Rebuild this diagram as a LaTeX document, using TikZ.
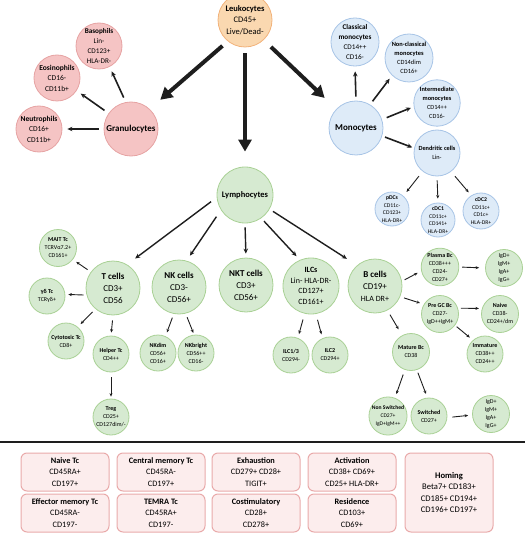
\documentclass[tikz,border=0pt]{standalone}
\usepackage{fontspec}
\setmainfont{Carlito}
\usetikzlibrary{arrows.meta}
\definecolor{cLeu}{HTML}{FAD8B0}
\definecolor{cLeuD}{HTML}{F2B27A}
\definecolor{cGran}{HTML}{F5C4C4}
\definecolor{cGranD}{HTML}{E6A3A3}
\definecolor{cMono}{HTML}{DEEBF8}
\definecolor{cMonoD}{HTML}{A7C4E6}
\definecolor{cLym}{HTML}{D6EAD1}
\definecolor{cLymD}{HTML}{A9D195}
\definecolor{cBox}{HTML}{FCEDED}
\definecolor{cBoxD}{HTML}{E9AAAA}
\definecolor{cArr}{HTML}{1E1E1E}

\begin{document}
\begin{tikzpicture}[
    x=1pt, y=-1pt,
    cell/.style={circle, line width=0.8pt, align=center, inner sep=0pt},
    leu/.style={cell, draw=cLeuD, fill=cLeu},
    gr/.style={cell, draw=cGranD, fill=cGran},
    mo/.style={cell, draw=cMonoD, fill=cMono},
    ly/.style={cell, draw=cLymD, fill=cLym},
    rL/.style={minimum size=54pt, font=\fontsize{8.5}{11.5}\selectfont},
    rM/.style={minimum size=46pt, font=\fontsize{7.5}{10.5}\selectfont},
    rS/.style={minimum size=37pt, font=\fontsize{6}{8}\selectfont},
    rXS/.style={minimum size=34pt, font=\fontsize{5.7}{7.5}\selectfont},
    panel/.style={draw=cBoxD, fill=cBox, line width=1pt, rounded corners=6pt,
                  minimum width=88pt, minimum height=38pt, align=center,
                  inner sep=1pt, font=\fontsize{8.3}{11.5}\selectfont},
    bigarr/.style={-{Triangle[length=12pt, width=13pt]}, line width=4pt, cArr,
                   shorten <=7pt, shorten >=14pt},
    arr/.style={-{Stealth[length=5pt, width=4.5pt]}, line width=1.6pt, cArr,
                shorten <=5pt, shorten >=5pt},
    tarr/.style={-{Stealth[length=3.5pt, width=3pt]}, line width=0.9pt, cArr,
                 shorten <=4pt, shorten >=4pt},
]
\useasboundingbox (0,0) rectangle (531,540);

% ===================== Leukocytes =====================
\node[leu, rL, font=\fontsize{8.5}{11.5}\selectfont] (leuk) at (245,20)
      {\textbf{Leukocytes}\\CD45+\\Live/Dead-};

% ===================== Granulocytes =====================
\node[gr, rL, font=\fontsize{9}{11}\selectfont] (gran) at (131,129) {\textbf{Granulocytes}};
\node[gr, rM] (neut) at (39,129) {\textbf{Neutrophils}\\CD16+\\CD11b+};
\node[gr, rM] (eos) at (57,78) {\textbf{Eosinophils}\\CD16-\\CD11b+};
\node[gr, rM, font=\fontsize{7.2}{10}\selectfont] (baso) at (99,46)
      {\textbf{Basophils}\\Lin-\\CD123+\\HLA-DR-};

\draw[arr] (gran.180) -- (neut.0);
\draw[arr] (gran.145) -- (eos.327);
\draw[arr] (gran.101) -- (baso.297);

% ===================== Monocytes =====================
\node[mo, rL, font=\fontsize{9}{11}\selectfont] (mono) at (356,128) {\textbf{Monocytes}};
\node[mo, rM, font=\fontsize{7.2}{10}\selectfont] (clas) at (355,42)
      {\textbf{Classical}\\\textbf{monocytes}\\CD14++\\CD16-};
\node[mo, rM, minimum size=48pt, font=\fontsize{6.4}{9}\selectfont] (ncla) at (409,58)
      {\textbf{Non-classical}\\\textbf{monocytes}\\CD14dim\\CD16+};
\node[mo, rM, font=\fontsize{6.3}{9}\selectfont] (intm) at (437,103)
      {\textbf{Intermediate}\\\textbf{monocytes}\\CD14++\\CD16-};
\node[mo, rM, font=\fontsize{6.3}{9.5}\selectfont] (dc) at (437,153)
      {\textbf{Dendritic cells}\\Lin-};

\node[mo, rXS] (pdc) at (392,209) {\textbf{pDCs}\\CD11c-\\CD123+\\HLA-DR+};
\node[mo, rXS] (cdca) at (438,220) {\textbf{cDC1}\\CD11c+\\CD141+\\HLA-DR+};
\node[mo, rXS, minimum size=36pt] (cdcb) at (481,211) {\textbf{cDC2}\\CD11c+\\CD1c+\\HLA-DR+};

\draw[arr, shorten <=4pt, shorten >=5pt] (mono.90) -- (clas.270);
\draw[arr, shorten <=4pt, shorten >=4pt] (mono.59) -- (ncla.226);
\draw[arr, shorten <=5pt, shorten >=3pt] (mono.18) -- (intm.189);
\draw[arr, shorten <=3pt, shorten >=2pt] (mono.343) -- (dc.168);

\draw[tarr, shorten <=6pt, shorten >=5pt] (dc.232) -- (pdc.49);
\draw[tarr] (dc.270) -- (cdca.90);
\draw[tarr, shorten <=6pt] (dc.307) -- (cdcb.122);

% ===================== Lymphocytes =====================
\node[ly, rL, minimum size=56pt] (lymph) at (245,195) {\textbf{Lymphocytes}};

\node[ly, rL, font=\fontsize{9}{12}\selectfont] (tcell) at (113,288) {\textbf{T cells}\\CD3+\\CD56};
\node[ly, rL, font=\fontsize{9}{12}\selectfont] (nkcell) at (179,287) {\textbf{NK cells}\\CD3-\\CD56+};
\node[ly, rL, font=\fontsize{9}{12}\selectfont] (nktcell) at (246,285) {\textbf{NKT cells}\\CD3+\\CD56+};
\node[ly, rL, minimum size=56pt, font=\fontsize{8}{10.5}\selectfont] (ilc) at (311,286)
      {\textbf{ILCs}\\Lin- HLA-DR-\\CD127+\\CD161+};
\node[ly, rL, font=\fontsize{9}{12}\selectfont] (bcell) at (375,286)
      {\textbf{B cells}\\CD19+\\{\fontsize{8}{10}\selectfont HLA DR+}};

\draw[arr, line width=1.4pt, shorten <=7pt, shorten >=10pt] (lymph.185) -- (tcell.59);
\draw[arr, line width=1.4pt, shorten <=8pt, shorten >=6pt] (lymph.212) -- (nkcell.74);
\draw[arr, line width=1.4pt, shorten <=4pt, shorten >=4pt] (lymph.270) -- (nktcell.90);
\draw[arr, line width=1.4pt, shorten <=4pt, shorten >=5pt] (lymph.305) -- (ilc.113);
\draw[arr, line width=1.4pt, shorten <=4pt, shorten >=12pt] (lymph.330) -- (bcell.131);

% ===================== Main branches =====================
\draw[bigarr] (leuk.231) -- (gran.47);
\draw[bigarr, shorten <=6pt, shorten >=15pt] (leuk.270) -- (lymph.90);
\draw[bigarr, shorten <=10pt, shorten >=16pt] (leuk.313) -- (mono.136);

% ===================== T cell subsets =====================
\node[ly, rS] (mait) at (58,248) {\textbf{MAIT Tc}\\TCRVα7.2+\\CD161+};
\node[ly, rS, minimum size=36pt] (gdt) at (47,296) {\textbf{γδ Tc}\\TCRγδ+};
\node[ly, rS, minimum size=36pt] (ctox) at (66,341) {\textbf{Cytotoxic Tc}\\CD8+};
\node[ly, rS, minimum size=36pt] (help) at (111,354) {\textbf{Helper Tc}\\CD4++};
\node[ly, rS, minimum size=36pt] (treg) at (111,417) {\textbf{Treg}\\CD25+\\CD127dim/-};

\draw[tarr] (tcell.144) -- (mait.322);
\draw[tarr, shorten <=3pt, shorten >=3pt] (tcell.195) -- (gdt.5);
\draw[tarr] (tcell.230) -- (ctox.50);
\draw[tarr, shorten <=5pt, shorten >=3pt] (tcell.270) -- (help.90);
\draw[tarr, shorten <=5pt, shorten >=2pt] (help.270) -- (treg.90);

% ===================== NK and ILC subsets =====================
\node[ly, rS, minimum size=36pt] (nkdim) at (158,353) {\textbf{NKdim}\\CD56+\\CD16+};
\node[ly, rS, minimum size=36pt] (nkbri) at (196,353) {\textbf{NKbright}\\CD56++\\CD16-};
\node[ly, rS, minimum size=36pt] (ilca) at (291,355) {\textbf{ILC1/3}\\CD294-};
\node[ly, rS, minimum size=36pt] (ilcb) at (330,355) {\textbf{ILC2}\\CD294+};

\draw[tarr] (nkcell.259) -- (nkdim.66);
\draw[tarr, shorten >=2pt] (nkcell.284) -- (nkbri.96);
\draw[tarr, shorten <=6pt] (ilc.257) -- (ilca.68);
\draw[tarr, shorten <=6pt] (ilc.280) -- (ilcb.114);

% ===================== B cell subsets =====================
\node[ly, rS] (plas) at (440,267) {\textbf{Plasma Bc}\\CD38+++\\CD24-\\CD27+};
\node[ly, rS] (igpl) at (504,268) {IgD+\\IgM+\\IgA+\\IgG+};
\node[ly, rS] (pregc) at (440,314) {\textbf{Pre GC Bc}\\CD27-\\IgD++IgM+};
\node[ly, rS] (naiv) at (500,314) {\textbf{Naive}\\CD38-\\CD24+/dm};
\node[ly, rS, minimum size=36pt] (imm) at (485,354) {\textbf{Immature}\\CD38++\\CD24++};
\node[ly, rS] (matb) at (411,352) {\textbf{Mature Bc}\\CD38};
\node[ly, rS, font=\fontsize{5.6}{7.8}\selectfont] (nsw) at (388,416) {\textbf{Non Switched}\\CD27+\\IgD+IgM++};
\node[ly, rS, minimum size=36pt] (swb) at (429,416) {\textbf{Switched}\\CD27+};
\node[ly, rS] (igsw) at (491,414) {IgD+\\IgM+\\IgA+\\IgG+};

\draw[tarr, shorten <=3pt] (bcell.10) -- (plas.192);
\draw[tarr] (bcell.337) -- (pregc.149);
\draw[tarr, shorten <=5pt, shorten >=7pt] (bcell.297) -- (matb.118);
\draw[tarr, shorten <=3pt, shorten >=6pt] (plas.0) -- (igpl.180);
\draw[tarr, shorten <=3pt, shorten >=3pt] (pregc.18) -- (naiv.163);
\draw[tarr, shorten <=2pt] (pregc.323) -- (imm.131);
\draw[tarr, shorten <=5pt] (matb.251) -- (nsw.69);
\draw[tarr, shorten <=3pt] (matb.288) -- (swb.95);
\draw[tarr, shorten <=5pt] (swb.355) -- (igsw.183);

% ===================== Marker panels =====================
\draw[line width=2pt, cArr] (0,442) -- (525,442);

\foreach \n/\x/\y/\t in {
    na/65/472/{\textbf{Naive Tc}\\CD45RA+\\CD197+},
    cm/161/472/{\textbf{Central memory Tc}\\CD45RA-\\CD197+},
    ex/256/472/{\textbf{Exhaustion}\\CD279+ CD28+\\TIGIT+},
    ac/352/472/{\textbf{Activation}\\CD38+ CD69+\\CD25+ HLA-DR+},
    em/65/513/{\textbf{Effector memory Tc}\\CD45RA-\\CD197-},
    te/161/513/{\textbf{TEMRA Tc}\\CD45RA+\\CD197-},
    co/256/513/{\textbf{Costimulatory}\\CD28+\\CD278+},
    re/352/513/{\textbf{Residence}\\CD103+\\CD69+}} {
    \node[panel] (box-\n) at (\x,\y) {\t};
}
\node[panel, minimum height=79pt, font=\fontsize{8.6}{11.5}\selectfont] (box-ho) at (449,492.5)
      {\textbf{Homing}\\Beta7+ CD183+\\CD185+ CD194+\\CD196+ CD197+};

\end{tikzpicture}
\end{document}
